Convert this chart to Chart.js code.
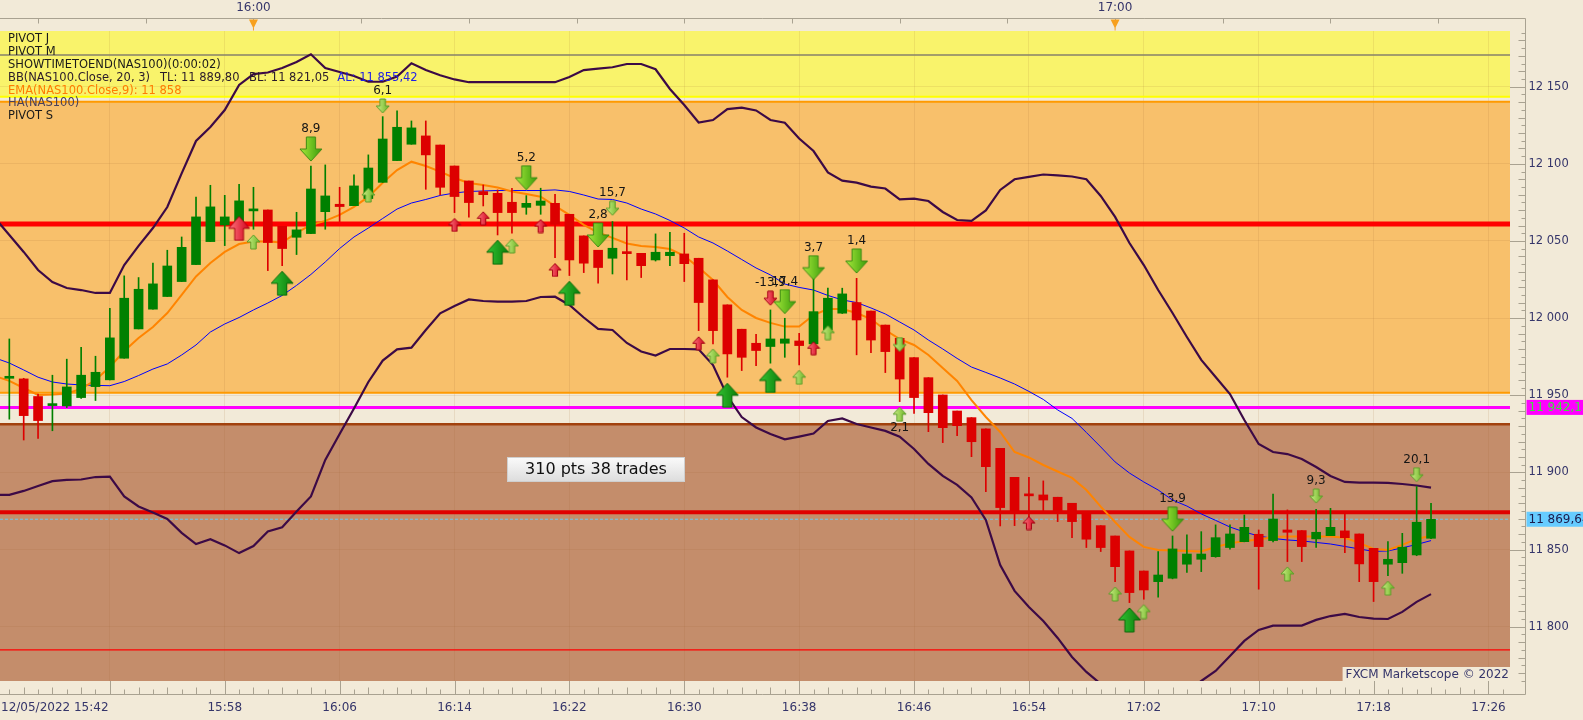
<!DOCTYPE html>
<html>
<head>
<meta charset="utf-8">
<script src="https://cdn.jsdelivr.net/npm/chart.js@4.4.1/dist/chart.umd.min.js"></script>
<style>
  html, body { margin: 0; padding: 0; background: #f2ead8; overflow: hidden; }
  #chart { display: block; width: 1583px; height: 720px; }
</style>
</head>
<body>
<canvas id="chart" width="1583" height="720"></canvas>
<script>
// NAS100 1-minute Heikin-Ashi candles, 12/05/2022
const candleTimes = [
  '15:43','15:44','15:45','15:46','15:47','15:48','15:49','15:50','15:51','15:52',
  '15:53','15:54','15:55','15:56','15:57','15:58','15:59','16:00','16:01','16:02',
  '16:03','16:04','16:05','16:06','16:07','16:08','16:09','16:10','16:11','16:12',
  '16:13','16:14','16:15','16:16','16:17','16:18','16:19','16:20','16:21','16:22',
  '16:23','16:24','16:25','16:26','16:27','16:28','16:29','16:30','16:31','16:32',
  '16:33','16:34','16:35','16:36','16:37','16:38','16:39','16:40','16:41','16:42',
  '16:43','16:44','16:45','16:46','16:47','16:48','16:49','16:50','16:51','16:52',
  '16:53','16:54','16:55','16:56','16:57','16:58','16:59','17:00','17:01','17:02',
  '17:03','17:04','17:05','17:06','17:07','17:08','17:09','17:10','17:11','17:12',
  '17:13','17:14','17:15','17:16','17:17','17:18','17:19','17:20','17:21','17:22'
];
const openP = [
  11961.0, 11960.6, 11949.2, 11943.3, 11943.1, 11948.5, 11955.6, 11960.0, 11974.0, 11993.0,
  12005.8, 12014.0, 12023.7, 12034.7, 12049.6, 12060.4, 12058.2, 12069.5, 12070.1, 12059.5,
  12052.4, 12054.8, 12069.0, 12073.8, 12072.9, 12077.5, 12088.0, 12102.1, 12112.7, 12118.1,
  12112.2, 12098.6, 12088.9, 12082.0, 12080.9, 12075.1, 12071.8, 12073.1, 12074.4, 12067.3,
  12053.3, 12044.0, 12038.8, 12042.3, 12042.0, 12037.7, 12040.5, 12041.6, 12038.8, 12024.8,
  12008.6, 11992.8, 11983.7, 11981.6, 11983.7, 11985.2, 11983.3, 11992.4, 12003.2, 12010.1,
  12004.6, 11995.5, 11986.9, 11974.4, 11961.4, 11950.2, 11939.8, 11935.5, 11928.2, 11915.6,
  11896.8, 11885.4, 11885.4, 11883.9, 11880.0, 11873.5, 11865.5, 11858.8, 11849.1, 11836.1,
  11829.2, 11831.4, 11840.5, 11843.7, 11845.4, 11851.3, 11855.1, 11859.9, 11855.8, 11862.7,
  11862.3, 11856.9, 11859.0, 11862.1, 11860.1, 11850.8, 11840.5, 11841.5, 11846.5, 11857.3
];
const highP = [
  11986.5, 11961.0, 11950.7, 11963.0, 11973.4, 11981.0, 11975.3, 12006.4, 12027.4, 12026.3,
  12035.6, 12044.0, 12052.6, 12078.5, 12086.1, 12079.6, 12086.7, 12084.8, 12070.1, 12059.5,
  12068.6, 12098.6, 12099.3, 12084.8, 12092.8, 12105.8, 12130.6, 12134.3, 12127.8, 12127.8,
  12112.2, 12098.6, 12088.9, 12086.3, 12083.1, 12084.2, 12079.4, 12084.2, 12080.3, 12067.3,
  12053.3, 12044.0, 12062.6, 12059.8, 12042.0, 12054.6, 12055.6, 12055.0, 12038.8, 12024.8,
  12008.6, 11992.8, 11989.5, 12005.3, 11999.9, 11990.2, 12026.9, 12019.4, 12019.4, 12025.8,
  12004.6, 11995.5, 11986.9, 11974.4, 11961.4, 11950.2, 11939.8, 11935.5, 11928.2, 11915.6,
  11896.8, 11896.8, 11894.5, 11883.9, 11880.0, 11873.5, 11865.5, 11858.8, 11849.1, 11836.1,
  11848.7, 11858.8, 11859.5, 11861.6, 11866.0, 11866.0, 11872.4, 11862.7, 11886.0, 11875.7,
  11862.3, 11876.1, 11876.7, 11873.5, 11860.1, 11850.8, 11855.1, 11860.5, 11890.8, 11880.0
];
const lowP = [
  11934.5, 11921.0, 11922.0, 11927.0, 11942.0, 11948.0, 11946.6, 11960.0, 11974.0, 11993.0,
  12005.8, 12014.0, 12023.7, 12034.7, 12049.6, 12047.0, 12055.0, 12057.6, 12030.8, 12034.0,
  12041.2, 12054.8, 12057.6, 12062.6, 12072.9, 12076.0, 12088.0, 12102.1, 12112.7, 12083.5,
  12079.8, 12068.4, 12065.4, 12072.7, 12053.9, 12055.0, 12067.3, 12067.3, 12039.2, 12027.6,
  12029.5, 12022.6, 12028.6, 12024.8, 12026.3, 12037.0, 12034.0, 12023.7, 11991.9, 11983.3,
  11961.7, 11966.0, 11969.2, 11970.8, 11974.6, 11969.7, 11983.0, 11992.0, 12003.0, 11976.2,
  11977.6, 11964.7, 11945.9, 11938.3, 11926.4, 11919.3, 11923.8, 11910.2, 11887.5, 11865.3,
  11865.5, 11871.3, 11875.2, 11868.1, 11857.7, 11851.3, 11848.7, 11829.2, 11815.6, 11817.8,
  11819.1, 11831.0, 11835.1, 11835.7, 11845.0, 11850.2, 11855.0, 11824.3, 11855.0, 11842.2,
  11842.2, 11851.3, 11859.0, 11848.0, 11829.2, 11816.3, 11833.1, 11834.6, 11846.0, 11857.0
];
const closeP = [
  11961.6, 11936.8, 11933.6, 11944.0, 11955.4, 11963.0, 11964.9, 11987.2, 12012.9, 12018.7,
  12022.2, 12033.8, 12045.9, 12065.6, 12072.1, 12065.6, 12076.0, 12070.8, 12049.0, 12045.1,
  12057.2, 12083.7, 12079.2, 12072.3, 12085.7, 12097.3, 12116.1, 12123.7, 12123.3, 12105.8,
  12084.8, 12078.8, 12074.9, 12080.0, 12068.4, 12068.4, 12074.4, 12075.9, 12060.8, 12037.7,
  12035.6, 12032.8, 12045.3, 12041.8, 12034.0, 12042.7, 12042.7, 12035.3, 12010.1, 11991.9,
  11976.8, 11974.6, 11979.0, 11986.5, 11986.5, 11982.2, 12004.2, 12012.9, 12015.7, 11998.8,
  11985.8, 11978.3, 11960.5, 11948.5, 11938.7, 11929.0, 11930.3, 11919.9, 11903.7, 11877.2,
  11875.0, 11884.8, 11882.1, 11874.2, 11868.1, 11856.7, 11851.3, 11838.9, 11822.1, 11823.8,
  11833.5, 11850.4, 11847.1, 11847.1, 11857.7, 11860.1, 11864.4, 11851.9, 11869.8, 11861.2,
  11851.9, 11861.2, 11864.4, 11857.7, 11840.7, 11829.2, 11843.7, 11851.5, 11867.7, 11869.6
];

// indicator lines start one minute earlier (15:42) so they run in from the left edge
const lineTimes = ['15:42', ...candleTimes];
const bbUpper = [
  12064.8,
  12053.9, 12042.9, 12031.2, 12023.4, 12019.5, 12018.2, 12016.3, 12016.3, 12034.4, 12046.8,
  12058.4, 12072.0, 12093.8, 12114.8, 12123.9, 12134.9, 12151.1, 12158.2, 12159.2, 12162.1,
  12166.0, 12171.0, 12162.1, 12159.5, 12156.9, 12153.2, 12153.2, 12156.6, 12165.2, 12160.8,
  12157.4, 12154.7, 12152.9, 12152.9, 12152.9, 12152.9, 12152.9, 12152.9, 12152.9, 12156.3,
  12160.8, 12161.7, 12162.6, 12164.7, 12164.7, 12161.3, 12148.5, 12138.1, 12126.8, 12128.4,
  12135.5, 12136.4, 12134.6, 12128.4, 12126.7, 12116.4, 12108.3, 12094.4, 12089.1, 12087.8,
  12085.2, 12084.0, 12077.0, 12077.4, 12075.9, 12068.8, 12063.6, 12063.0, 12069.8, 12083.1,
  12090.0, 12091.5, 12093.1, 12092.5, 12091.8, 12090.0, 12079.2, 12065.6, 12048.7, 12034.4,
  12018.2, 12003.3, 11987.8, 11972.9, 11961.8, 11950.8, 11934.0, 11918.4, 11913.2, 11911.9,
  11908.7, 11903.5, 11897.7, 11893.8, 11893.4, 11893.4, 11893.2, 11892.5, 11891.5, 11890.1
];
const bbLower = [
  11885.4,
  11885.4, 11888.0, 11891.2, 11894.3, 11895.1, 11895.4, 11897.0, 11897.2, 11884.4, 11877.9,
  11874.0, 11869.8, 11860.8, 11853.6, 11856.7, 11852.7, 11847.7, 11852.3, 11861.7, 11864.4,
  11874.7, 11884.4, 11908.1, 11924.9, 11941.4, 11958.6, 11972.5, 11979.8, 11980.9, 11992.3,
  12003.1, 12007.9, 12012.1, 12011.1, 12010.7, 12010.7, 12011.1, 12013.7, 12013.9, 12008.5,
  12000.4, 11993.0, 11992.3, 11983.9, 11978.4, 11975.8, 11980.0, 11980.0, 11979.8, 11969.6,
  11949.5, 11935.9, 11929.1, 11924.9, 11921.4, 11923.2, 11925.2, 11933.3, 11935.0, 11931.4,
  11929.1, 11926.9, 11923.2, 11915.2, 11905.5, 11897.7, 11891.9, 11883.8, 11869.2, 11840.0,
  11823.2, 11812.8, 11803.7, 11792.7, 11780.4, 11770.7, 11762.9, 11755.0, 11750.0, 11748.0,
  11748.0, 11752.0, 11758.0, 11764.8, 11771.3, 11781.0, 11790.8, 11797.9, 11800.7, 11800.7,
  11800.7, 11804.4, 11806.9, 11808.3, 11806.3, 11805.2, 11805.0, 11809.6, 11816.1, 11821.1
];
const bbMiddle = [
  11974.2,
  11970.9, 11966.4, 11961.7, 11958.6, 11957.3, 11956.7, 11956.4, 11956.2, 11958.9, 11962.8,
  11967.0, 11970.3, 11976.1, 11982.6, 11991.0, 11996.2, 12000.4, 12005.3, 12009.8, 12014.7,
  12021.2, 12028.3, 12036.4, 12045.1, 12052.6, 12058.4, 12064.6, 12070.7, 12074.6, 12076.9,
  12079.5, 12081.1, 12082.1, 12082.4, 12082.7, 12082.7, 12082.7, 12082.7, 12083.1, 12082.1,
  12079.8, 12077.2, 12076.9, 12074.6, 12070.7, 12067.5, 12063.3, 12058.4, 12052.6, 12048.7,
  12043.5, 12038.0, 12032.5, 12028.0, 12022.1, 12019.9, 12018.2, 12014.7, 12011.8, 12010.1,
  12006.6, 12002.7, 11997.5, 11992.3, 11985.8, 11980.0, 11973.9, 11968.3, 11964.8, 11961.2,
  11957.3, 11952.5, 11947.3, 11940.5, 11935.0, 11925.9, 11916.5, 11906.8, 11899.6, 11893.8,
  11888.6, 11882.1, 11878.2, 11873.1, 11868.9, 11864.6, 11861.4, 11858.8, 11857.2, 11856.2,
  11855.6, 11854.6, 11853.6, 11852.0, 11850.4, 11848.8, 11849.1, 11851.1, 11853.3, 11855.8
];
const ema9 = [
  11962.5,
  11959.3, 11954.7, 11950.2, 11950.5, 11951.2, 11954.1, 11959.9, 11968.3, 11978.7, 11987.1,
  11994.2, 12003.3, 12015.0, 12027.0, 12035.7, 12042.9, 12048.0, 12049.7, 12049.7, 12049.0,
  12055.2, 12060.4, 12063.0, 12066.9, 12072.1, 12078.6, 12087.7, 12096.0, 12101.4, 12098.6,
  12095.0, 12090.8, 12087.6, 12086.3, 12084.7, 12082.1, 12080.5, 12078.7, 12072.7, 12066.9,
  12060.4, 12055.5, 12052.0, 12048.4, 12046.8, 12046.1, 12044.8, 12040.3, 12032.8, 12024.7,
  12013.7, 12005.3, 12000.1, 11996.9, 11994.5, 11994.5, 12002.0, 12005.9, 12005.9, 12003.3,
  11999.4, 11992.3, 11986.4, 11982.6, 11976.1, 11967.7, 11959.3, 11946.9, 11935.9, 11926.2,
  11913.2, 11909.7, 11904.8, 11900.6, 11896.4, 11888.6, 11877.8, 11867.8, 11858.2, 11851.7,
  11849.7, 11849.4, 11849.1, 11848.8, 11851.7, 11854.0, 11855.6, 11856.5, 11858.2, 11858.4,
  11858.4, 11858.4, 11858.4, 11857.6, 11854.3, 11850.4, 11849.7, 11853.0, 11856.9, 11859.0
];

// trade signals (price = centre of the arrow)
const exitTimes = ['16:04', '16:19', '16:24', '16:37', '16:39', '16:42', '17:04'];
const exitPrices = [12109.6, 12091.0, 12053.9, 12010.7, 12032.7, 12037.0, 11869.7];
const exitLabels = ['8,9', '5,2', '2,8', '17,4', '3,7', '1,4', '13,9'];
const smallExitTimes = ['16:09', '16:25', '16:45', '17:14', '17:21'];
const smallExitPrices = [12137.5, 12071.2, 11982.9, 11884.7, 11898.5];
const smallExitLabels = ['6,1', '15,7', '', '9,3', '20,1'];
const lossExitTimes = ['16:36'];
const lossExitPrices = [12012.9];
const lossExitLabels = ['-13,9'];
const entryTimes = ['16:02', '16:17', '16:22', '16:33', '16:36', '17:01'];
const entryPrices = [12022.6, 12042.7, 12016.1, 11950.0, 11959.6, 11804.4];
const addTimes = ['16:00', '16:08', '16:18', '16:32', '16:38', '16:40', '16:45', '17:00', '17:02', '17:12', '17:19'];
const addPrices = [12049.4, 12079.8, 12046.8, 11975.5, 11961.7, 11990.6, 11937.7, 11821.2, 11809.8, 11834.2, 11825.0];
const addLabels = ['', '', '', '', '', '', '2,1', '', '', '', ''];
const redEntryTimes = ['15:59'];
const redEntryPrices = [12058.2];
const redAddTimes = ['16:14', '16:16', '16:20', '16:21', '16:31', '16:39', '16:54'];
const redAddPrices = [12060.4, 12064.7, 12059.7, 12031.2, 11983.7, 11980.5, 11867.2];

// pivot zones and levels
const yellowZoneLow = 12143.5;
const orangeZoneHigh = 12140.3;
const orangeZoneLow = 11951.7;
const brownZoneHigh = 11931.2;
const pivotLevels = [12170.5, 12061.0, 11874.2, 11785.0];
const dayLevel = 11942.13;
const lastPrice = 11869.64;

const priceTicks = [11800, 11850, 11900, 11950, 12000, 12050, 12100, 12150];

const FONT = '"DejaVu Sans", Verdana, sans-serif';
const AXIS_TEXT = '#35356a';
const AXIS_LINE = '#a9a291';

function toMin(s) {
  const [h, m] = s.split(':').map(Number);
  return h * 60 + m;
}
function fmtTime(m) {
  return `${Math.floor(m / 60)}:${String(m % 60).padStart(2, '0')}`;
}
function fmtPrice(v) {
  const s = Math.round(v).toString();
  return s.slice(0, -3) + ' ' + s.slice(-3);
}
function fmtPrice2(v) {
  const [a, b] = v.toFixed(2).split('.');
  return a.slice(0, -3) + ' ' + a.slice(-3) + ',' + b;
}

function arrowImage(w, h, up, light, dark, edge) {
  const c = document.createElement('canvas');
  c.width = w + 2;
  c.height = h + 2;
  const g = c.getContext('2d');
  g.translate(1, 1);
  const head = h * 0.5, s1 = w * 0.29, s2 = w * 0.71;
  const pts = [[w / 2, 0], [w, head], [s2, head], [s2, h], [s1, h], [s1, head], [0, head]];
  g.beginPath();
  pts.forEach(([px, py], k) => {
    const yy = up ? py : h - py;
    if (k) g.lineTo(px, yy); else g.moveTo(px, yy);
  });
  g.closePath();
  const grad = g.createLinearGradient(0, 0, w, 0);
  grad.addColorStop(0, light);
  grad.addColorStop(1, dark);
  g.fillStyle = grad;
  g.fill();
  g.strokeStyle = edge;
  g.lineWidth = 1;
  g.stroke();
  return c;
}

const bigExitImg = arrowImage(22, 24, false, '#a8ea3c', '#3a9c0a', '#3a8a12');
const smallExitImg = arrowImage(13, 14, false, '#cdef88', '#6cb424', '#5d9c2a');
const lossExitImg = arrowImage(13, 14, false, '#ff7a82', '#d2001a', '#a50012');
const entryImg = arrowImage(22, 24, true, '#34c434', '#0a7e0a', '#086808');
const addImg = arrowImage(13, 14, true, '#cdef88', '#6cb424', '#5d9c2a');
const redEntryImg = arrowImage(21, 24, true, '#ff7a82', '#d2001a', '#a50012');
const redAddImg = arrowImage(12, 13, true, '#ff7a82', '#d2001a', '#a50012');

const pts = (times, vals) => times.map((t, i) => ({ x: toMin(t), y: vals[i] }));

function lineSet(label, values, color, width, order) {
  return {
    type: 'line', label, data: pts(lineTimes, values),
    borderColor: color, borderWidth: width, pointRadius: 0, tension: 0,
    order, clip: 0
  };
}
function arrowSet(label, times, prices, img, labels, below) {
  return {
    type: 'line', label, data: pts(times, prices), showLine: false,
    pointStyle: img, pointRadius: 6, order: 1,
    arrowLabels: labels || null, labelBelow: !!below, imgH: img.height
  };
}

const candleColors = closeP.map((c, i) => (c >= openP[i] ? '#008000' : '#dd0000'));

const zonesPlugin = {
  id: 'zones',
  beforeDraw(chart) {
    const { ctx, chartArea: a, scales: { y } } = chart;
    ctx.save();
    ctx.fillStyle = '#f2ead8';
    ctx.fillRect(0, 0, chart.width, chart.height);
    const band = (lo, hi, color) => {
      const top = Math.max(a.top, y.getPixelForValue(hi));
      const bot = Math.min(a.bottom, y.getPixelForValue(lo));
      ctx.fillStyle = color;
      ctx.fillRect(a.left, top, a.right - a.left, bot - top);
    };
    band(yellowZoneLow, y.max, '#f9f36b');
    band(orangeZoneLow, orangeZoneHigh, '#f8c06b');
    band(y.min, brownZoneHigh, '#c48d6b');
    ctx.restore();
  },
  beforeDatasetsDraw(chart) {
    const { ctx, chartArea: a, scales: { y } } = chart;
    const hline = (v, color, w, dash) => {
      const py = y.getPixelForValue(v);
      ctx.beginPath();
      ctx.setLineDash(dash || []);
      ctx.strokeStyle = color;
      ctx.lineWidth = w;
      ctx.moveTo(a.left, py);
      ctx.lineTo(a.right, py);
      ctx.stroke();
    };
    ctx.save();
    hline(pivotLevels[0], '#86806a', 1.5);
    hline(yellowZoneLow, '#ffff00', 2);
    hline(orangeZoneHigh, '#ff9a00', 2);
    hline(orangeZoneLow, '#ff9a00', 2);
    hline(brownZoneHigh, '#a2420e', 2.5);
    hline(pivotLevels[1], '#ff0000', 5);
    hline(dayLevel, '#ff00ff', 3);
    hline(pivotLevels[2], '#e00000', 4);
    hline(pivotLevels[3], '#ff0000', 1.2);
    hline(lastPrice, '#6cc8f0', 1, [3, 2]);
    ctx.restore();
  },
  afterDatasetsDraw(chart) {
    const { ctx } = chart;
    ctx.save();
    ctx.font = '12px ' + FONT;
    ctx.fillStyle = '#151515';
    ctx.textAlign = 'center';
    ctx.textBaseline = 'middle';
    chart.data.datasets.forEach((ds, di) => {
      if (!ds.arrowLabels) return;
      const meta = chart.getDatasetMeta(di);
      meta.data.forEach((p, k) => {
        const txt = ds.arrowLabels[k];
        if (!txt) return;
        const ty = ds.labelBelow ? p.y + ds.imgH / 2 + 6 : p.y - ds.imgH / 2 - 7;
        ctx.fillText(txt, p.x, ty);
      });
    });
    ctx.restore();
  },
  afterDraw(chart) {
    const { ctx, chartArea: a, scales: { x, y } } = chart;
    const axisRight = a.right + 15.5;
    const axisBottom = a.bottom + 13.5;
    const axisTop = 18.5;
    ctx.save();

    // frame lines
    ctx.strokeStyle = AXIS_LINE;
    ctx.lineWidth = 1;
    ctx.beginPath();
    ctx.moveTo(0, axisTop); ctx.lineTo(axisRight, axisTop); ctx.lineTo(axisRight, axisBottom); ctx.lineTo(0, axisBottom);
    ctx.stroke();

    // right axis ticks and labels
    ctx.beginPath();
    for (let v = 11765; v <= 12185; v += 5) {
      const py = Math.round(y.getPixelForValue(v)) + 0.5;
      const len = v % 50 === 0 ? axisRight - a.right : (v % 10 === 0 ? 7 : 4);
      ctx.moveTo(axisRight - len, py);
      ctx.lineTo(axisRight, py);
    }
    ctx.stroke();
    ctx.font = '11.5px ' + FONT;
    ctx.fillStyle = AXIS_TEXT;
    ctx.textAlign = 'left';
    ctx.textBaseline = 'middle';
    priceTicks.forEach(v => ctx.fillText(fmtPrice(v), axisRight + 3, y.getPixelForValue(v)));

    // bottom axis ticks and labels
    ctx.beginPath();
    for (let m = 943; m <= 1047; m++) {
      const px = Math.round(x.getPixelForValue(m)) + 0.5;
      const major = (m - 942) % 8 === 0;
      ctx.moveTo(px, axisBottom);
      ctx.lineTo(px, major ? a.bottom : axisBottom - (m % 2 ? 5 : 7));
    }
    ctx.stroke();
    ctx.font = '12px ' + FONT;
    ctx.textAlign = 'center';
    for (let m = 958; m <= 1046; m += 8) ctx.fillText(fmtTime(m), x.getPixelForValue(m), 708);
    ctx.textAlign = 'left';
    ctx.fillText('12/05/2022 ' + fmtTime(942), 1, 708);

    // top axis ticks, hour labels and markers
    ctx.beginPath();
    for (let m = 945; m <= 1047; m += 7.5) {
      const px = Math.round(x.getPixelForValue(m)) + 0.5;
      ctx.moveTo(px, axisTop); ctx.lineTo(px, axisTop + 5);
    }
    ctx.stroke();
    ctx.textAlign = 'center';
    [960, 1020].forEach(m => {
      const px = x.getPixelForValue(m);
      ctx.fillStyle = AXIS_TEXT;
      ctx.fillText(fmtTime(m), px, 8);
      ctx.fillStyle = '#f7a01e';
      ctx.beginPath();
      ctx.moveTo(px - 4.5, axisTop + 1); ctx.lineTo(px + 4.5, axisTop + 1); ctx.lineTo(px, axisTop + 10);
      ctx.closePath(); ctx.fill();
      ctx.fillRect(px - 0.5, axisTop + 9, 1, 3);
    });

    // value boxes on the price axis
    const valueBox = (v, bg, fg) => {
      const py = y.getPixelForValue(v);
      ctx.fillStyle = bg;
      ctx.fillRect(axisRight + 1, py - 7.5, chart.width - axisRight, 15);
      ctx.fillStyle = fg;
      ctx.textAlign = 'left';
      ctx.font = '12px ' + FONT;
      ctx.fillText(fmtPrice2(v), axisRight + 3, py + 0.5);
    };
    valueBox(dayLevel, '#ff00ff', '#3ee03e');
    valueBox(lastPrice, '#66ccff', '#1c1c4c');

    // indicator legend
    ctx.font = '11.5px ' + FONT;
    ctx.textAlign = 'left';
    const rows = [
      ['PIVOT J', '#1a1a1a'], ['PIVOT M', '#1a1a1a'], ['SHOWTIMETOEND(NAS100)(0:00:02)', '#1a1a1a'],
      ['BB(NAS100.Close, 20, 3)', '#2a1a2a'], ['EMA(NAS100.Close,9): 11 858', '#ff7c00'],
      ['HA(NAS100)', '#4a405a'], ['PIVOT S', '#1a1a1a']
    ];
    rows.forEach(([t, c], k) => {
      ctx.fillStyle = c;
      ctx.fillText(t, 8, 39 + k * 12.9);
    });
    const bbY = 39 + 3 * 12.9;
    let bx = Math.max(160, 8 + ctx.measureText(rows[3][0]).width + 9);
    ctx.fillStyle = '#2a1a2a';
    ctx.fillText('TL: 11 889,80', bx, bbY);
    bx = Math.max(249, bx + ctx.measureText('TL: 11 889,80').width + 8);
    ctx.fillText('BL: 11 821,05', bx, bbY);
    bx = Math.max(335, bx + ctx.measureText('BL: 11 821,05').width + 8);
    ctx.fillStyle = '#2020e6';
    ctx.fillText('AL: 11 855,42', bx, bbY);

    // results box
    const g = ctx.createLinearGradient(0, 457, 0, 482);
    g.addColorStop(0, '#fbfbfb');
    g.addColorStop(1, '#dcdcdc');
    ctx.fillStyle = g;
    ctx.fillRect(507, 457, 178, 25);
    ctx.strokeStyle = '#cfcfcf';
    ctx.strokeRect(507.5, 457.5, 177, 24);
    ctx.fillStyle = '#101010';
    ctx.font = '16px ' + FONT;
    ctx.textAlign = 'center';
    ctx.fillText('310 pts 38 trades', 596, 470);

    // copyright tag
    ctx.font = '12px ' + FONT;
    const tag = 'FXCM Marketscope © 2022';
    const tw = ctx.measureText(tag).width;
    ctx.fillStyle = '#f2ead8';
    ctx.fillRect(a.right - tw - 4, a.bottom - 14, tw + 4, 14);
    ctx.fillStyle = AXIS_TEXT;
    ctx.textAlign = 'right';
    ctx.fillText(tag, a.right - 1, a.bottom - 6.5);
    ctx.restore();
  }
};

new Chart(document.getElementById('chart'), {
  type: 'bar',
  data: {
    datasets: [
      lineSet('BB upper', bbUpper, '#3c0a46', 2.2, 10),
      lineSet('BB lower', bbLower, '#3c0a46', 2.2, 10),
      lineSet('BB middle', bbMiddle, '#0000ff', 1, 9),
      lineSet('EMA 9', ema9, '#ff8400', 2, 8),
      {
        type: 'bar', label: 'wicks',
        data: candleTimes.map((t, i) => ({ x: toMin(t), y: [lowP[i], highP[i]] })),
        backgroundColor: candleColors, barThickness: 1, grouped: false, order: 6, clip: 0
      },
      {
        type: 'bar', label: 'bodies',
        data: candleTimes.map((t, i) => ({ x: toMin(t), y: [openP[i], closeP[i]] })),
        backgroundColor: candleColors, barThickness: 9, minBarLength: 2, grouped: false, order: 5, clip: 0
      },
      arrowSet('exit', exitTimes, exitPrices, bigExitImg, exitLabels),
      arrowSet('small exit', smallExitTimes, smallExitPrices, smallExitImg, smallExitLabels),
      arrowSet('loss exit', lossExitTimes, lossExitPrices, lossExitImg, lossExitLabels),
      arrowSet('entry', entryTimes, entryPrices, entryImg),
      arrowSet('add', addTimes, addPrices, addImg, addLabels, true),
      arrowSet('red entry', redEntryTimes, redEntryPrices, redEntryImg),
      arrowSet('red add', redAddTimes, redAddPrices, redAddImg)
    ]
  },
  options: {
    responsive: false,
    animation: false,
    events: [],
    layout: { autoPadding: false, padding: { top: 31, left: 0, right: 0, bottom: 0 } },
    plugins: { legend: { display: false }, tooltip: { enabled: false } },
    scales: {
      x: {
        type: 'linear', min: 942.35, max: 1047.5, offset: false,
        grid: { color: 'rgba(160,100,40,0.12)', drawTicks: false, offset: false },
        border: { display: false },
        ticks: { display: false },
        afterBuildTicks: s => {
          const t = [];
          for (let m = 950; m <= 1046; m += 8) t.push({ value: m });
          s.ticks = t;
        },
        afterFit: s => { s.height = 39; }
      },
      y: {
        type: 'linear', position: 'right', min: 11764.8, max: 12186.1,
        grid: { color: 'rgba(160,100,40,0.12)', drawTicks: false },
        border: { display: false },
        ticks: { display: false },
        afterBuildTicks: s => { s.ticks = priceTicks.map(v => ({ value: v })); },
        afterFit: s => { s.width = 73; }
      }
    }
  },
  plugins: [zonesPlugin]
});
</script>
</body>
</html>
